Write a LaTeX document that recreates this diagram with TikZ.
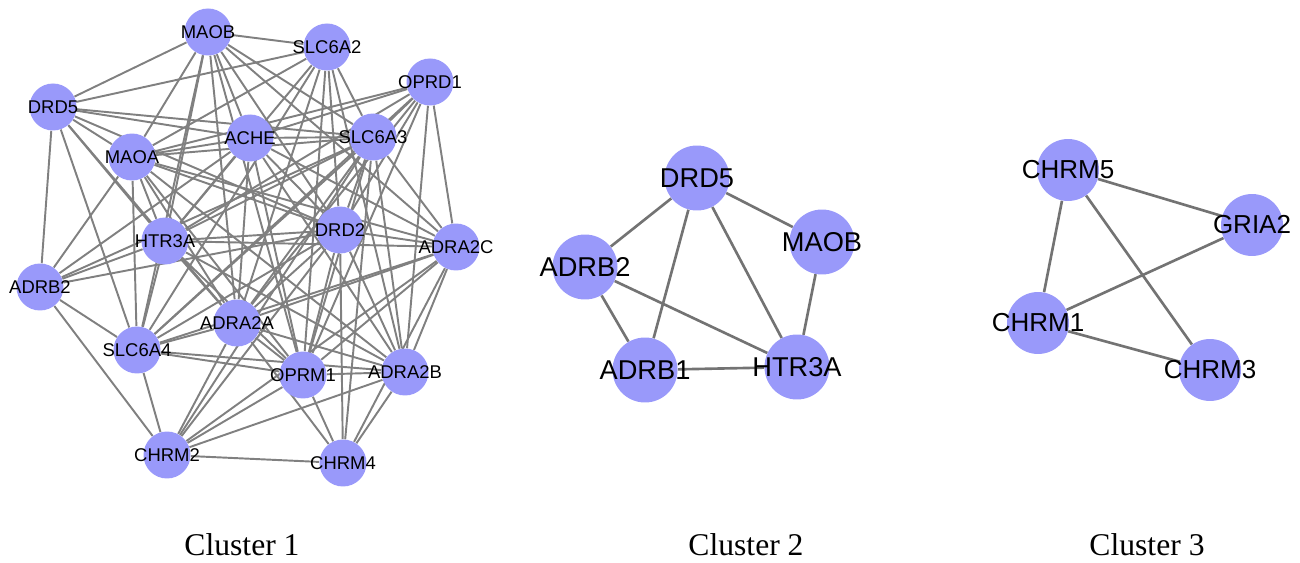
\documentclass[tikz,border=0pt]{standalone}
\usepackage{fontspec}
\setmainfont{Liberation Serif}
\newfontfamily\genefont{Liberation Sans}
\usepackage{tikz}
\usetikzlibrary{backgrounds}
\definecolor{nodeblue}{RGB}{153,153,250}
\definecolor{edgegray}{RGB}{128,128,128}

\begin{document}
\begin{tikzpicture}[x=0.02cm, y=-0.02cm,
  gene/.style={circle, fill=nodeblue, inner sep=0pt},
  genea/.style={gene, minimum size=0.94cm, label={[font=\genefont\fontsize{10.5}{12}\selectfont, inner sep=0pt]center:#1}},
  geneb/.style={gene, minimum size=1.3cm, label={[font=\genefont\fontsize{15.5}{18}\selectfont, inner sep=0pt]center:#1}},
  genec/.style={gene, minimum size=1.24cm, label={[font=\genefont\fontsize{14.8}{17}\selectfont, inner sep=0pt]center:#1}},
  linka/.style={draw=edgegray, line width=1.1pt},
  linkb/.style={draw=edgegray!90!black, line width=1.5pt},
  caption/.style={font=\fontsize{18}{20}\selectfont}]

  \useasboundingbox (0,0) rectangle (1300,563);

  % cluster 1
  \node[genea=MAOB] (c1MAOB) at (208,32) {};
  \node[genea=SLC6A2] (c1SLC6A2) at (327,47) {};
  \node[genea=OPRD1] (c1OPRD1) at (430,82) {};
  \node[genea=DRD5] (c1DRD5) at (53,107) {};
  \node[genea=ACHE] (c1ACHE) at (250,138) {};
  \node[genea=SLC6A3] (c1SLC6A3) at (373,137) {};
  \node[genea=MAOA] (c1MAOA) at (132,157) {};
  \node[genea=HTR3A] (c1HTR3A) at (165,241) {};
  \node[genea=DRD2] (c1DRD2) at (340,230) {};
  \node[genea=ADRA2C] (c1ADRA2C) at (456,247) {};
  \node[genea=ADRB2] (c1ADRB2) at (40,287) {};
  \node[genea=ADRA2A] (c1ADRA2A) at (237,323) {};
  \node[genea=SLC6A4] (c1SLC6A4) at (137,350) {};
  \node[genea=OPRM1] (c1OPRM1) at (303,375) {};
  \node[genea=ADRA2B] (c1ADRA2B) at (405,372) {};
  \node[genea=CHRM2] (c1CHRM2) at (167,455) {};
  \node[genea=CHRM4] (c1CHRM4) at (343,463) {};

  \begin{scope}[on background layer]
  \foreach \a/\b in {MAOB/DRD5, MAOB/SLC6A2, MAOB/MAOA, MAOB/HTR3A, MAOB/SLC6A4, MAOB/ADRA2A,
      MAOB/ACHE, MAOB/OPRM1, MAOB/DRD2, MAOB/SLC6A3, MAOB/ADRA2C,
      SLC6A2/DRD5, SLC6A2/MAOA, SLC6A2/HTR3A, SLC6A2/ADRA2A, SLC6A2/SLC6A4, SLC6A2/DRD2,
      SLC6A2/OPRM1, SLC6A2/ADRA2B, SLC6A2/SLC6A3,
      OPRD1/SLC6A3, OPRD1/ACHE, OPRD1/MAOA, OPRD1/HTR3A, OPRD1/ADRA2A, OPRD1/SLC6A4,
      OPRD1/DRD2, OPRD1/OPRM1, OPRD1/ADRA2B, OPRD1/ADRA2C,
      DRD5/ADRB2, DRD5/SLC6A4, DRD5/MAOA, DRD5/HTR3A, DRD5/ACHE, DRD5/SLC6A3, DRD5/ADRA2A, DRD5/DRD2,
      ACHE/MAOA, ACHE/SLC6A3, ACHE/ADRB2, ACHE/HTR3A, ACHE/DRD2, ACHE/ADRA2A, ACHE/OPRM1,
      ACHE/ADRA2B, ACHE/ADRA2C,
      SLC6A3/MAOA, SLC6A3/HTR3A, SLC6A3/DRD2, SLC6A3/ADRA2C, SLC6A3/ADRA2A, SLC6A3/SLC6A4,
      SLC6A3/OPRM1, SLC6A3/ADRA2B, SLC6A3/CHRM2, SLC6A3/CHRM4, SLC6A3/ADRB2,
      MAOA/ADRB2, MAOA/HTR3A, MAOA/DRD2, MAOA/ADRA2C, MAOA/ADRA2A, MAOA/SLC6A4, MAOA/OPRM1, MAOA/ADRA2B,
      HTR3A/ADRB2, HTR3A/DRD2, HTR3A/ADRA2C, HTR3A/ADRA2A, HTR3A/SLC6A4, HTR3A/OPRM1, HTR3A/ADRA2B,
      DRD2/ADRB2, DRD2/ADRA2C, DRD2/ADRA2A, DRD2/SLC6A4, DRD2/OPRM1, DRD2/ADRA2B, DRD2/CHRM2, DRD2/CHRM4,
      ADRA2C/ADRA2A, ADRA2C/SLC6A4, ADRA2C/OPRM1, ADRA2C/ADRA2B, ADRA2C/CHRM2, ADRA2C/CHRM4,
      ADRB2/SLC6A4, ADRB2/CHRM2,
      ADRA2A/SLC6A4, ADRA2A/OPRM1, ADRA2A/ADRA2B, ADRA2A/CHRM2, ADRA2A/CHRM4,
      SLC6A4/OPRM1, SLC6A4/ADRA2B, SLC6A4/CHRM2,
      OPRM1/ADRA2B, OPRM1/CHRM2, OPRM1/CHRM4,
      ADRA2B/CHRM2, ADRA2B/CHRM4, CHRM2/CHRM4}
    \draw[linka] (c1\a) -- (c1\b);
  \end{scope}

  % cluster 2
  \node[geneb=DRD5] (c2DRD5) at (697,178) {};
  \node[geneb=MAOB] (c2MAOB) at (822,242) {};
  \node[geneb=ADRB2] (c2ADRB2) at (585,267) {};
  \node[geneb=ADRB1] (c2ADRB1) at (645,370) {};
  \node[geneb=HTR3A] (c2HTR3A) at (797,367) {};

  \begin{scope}[on background layer]
  \foreach \a/\b in {DRD5/ADRB2, DRD5/ADRB1, DRD5/HTR3A, DRD5/MAOB, MAOB/HTR3A,
      ADRB2/ADRB1, ADRB2/HTR3A, ADRB1/HTR3A}
    \draw[linkb] (c2\a) -- (c2\b);
  \end{scope}

  % cluster 3
  \node[genec=CHRM5] (c3CHRM5) at (1068,170) {};
  \node[genec=GRIA2] (c3GRIA2) at (1252,225) {};
  \node[genec=CHRM1] (c3CHRM1) at (1038,323) {};
  \node[genec=CHRM3] (c3CHRM3) at (1210,370) {};

  \begin{scope}[on background layer]
  \foreach \a/\b in {CHRM5/GRIA2, CHRM5/CHRM1, CHRM5/CHRM3, GRIA2/CHRM1, CHRM1/CHRM3}
    \draw[linkb] (c3\a) -- (c3\b);
  \end{scope}

  % captions
  \node[caption] (cap1) at (242,545) {Cluster 1};
  \node[caption] (cap2) at (746,545) {Cluster 2};
  \node[caption] (cap3) at (1147,545) {Cluster 3};
\end{tikzpicture}
\end{document}
